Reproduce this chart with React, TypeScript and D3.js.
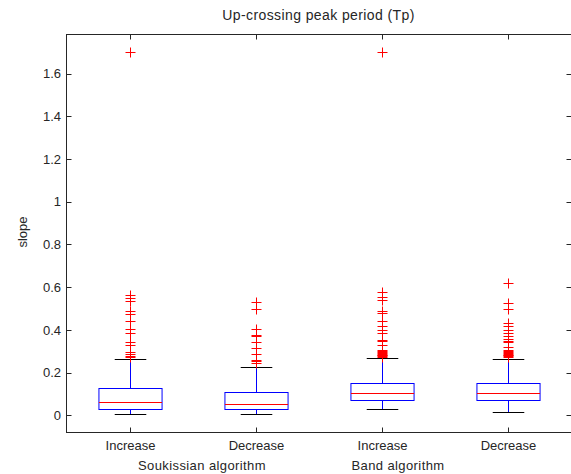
import * as d3 from "d3";

const categories = ["Increase", "Decrease", "Increase", "Decrease"];
const groups = ["Soukissian algorithm", "Band algorithm"];
const yTicks = [0, 0.2, 0.4, 0.6, 0.8, 1, 1.2, 1.4, 1.6];

// [lower whisker, q1, median, q3, upper whisker]
const boxStats: number[][] = [
  [0.005, 0.027, 0.06, 0.127, 0.262],
  [0.005, 0.027, 0.053, 0.108, 0.228],
  [0.027, 0.07, 0.103, 0.152, 0.267],
  [0.016, 0.07, 0.103, 0.152, 0.262],
];

const outliers: number[][] = [
  [1.701, 0.564, 0.548, 0.534, 0.489, 0.475, 0.442, 0.402, 0.386, 0.345, 0.33, 0.295, 0.288, 0.278, 0.272],
  [0.53, 0.498, 0.402, 0.378, 0.369, 0.341, 0.313, 0.286, 0.261, 0.253, 0.244],
  [1.701, 0.576, 0.556, 0.541, 0.486, 0.478, 0.441, 0.42, 0.4, 0.384, 0.353, 0.347, 0.327,
    0.305, 0.3, 0.296, 0.292, 0.288, 0.284, 0.28, 0.276, 0.273],
  [0.62, 0.527, 0.498, 0.433, 0.416, 0.4, 0.384, 0.369, 0.358, 0.35, 0.342, 0.319,
    0.305, 0.3, 0.296, 0.292, 0.288, 0.284, 0.28, 0.276, 0.273],
];

const W = 571;
const H = 474;
const left = 66.5;
const right = 571.5;
const top = 34.5;
const bottom = 432.5;

const App = () => {
  const x = d3.scaleLinear().domain([0.5, 4.5]).range([left, right]);
  const y = d3.scaleLinear().domain([-0.081, 1.784]).range([bottom, top]);
  const halfBox = x(0.25) - x(0);
  const halfCap = halfBox / 2;
  const font = "'Liberation Sans', Arial, sans-serif";
  const axisColor = "#262626";

  return (
    <svg
      width={W}
      height={H}
      style={{ position: "absolute", left: 0, top: 0, background: "#fff" }}
      fontFamily={font}
    >
      <rect x={0} y={0} width={W} height={H} fill="#fff" />
      {/* axes frame */}
      <rect x={left} y={top} width={right - left} height={bottom - top} fill="none" stroke={axisColor} />
      {yTicks.map((t) => (
        <g key={t}>
          <line x1={left} x2={left + 5} y1={Math.round(y(t)) + 0.5} y2={Math.round(y(t)) + 0.5} stroke={axisColor} />
          <line x1={right - 5} x2={right} y1={Math.round(y(t)) + 0.5} y2={Math.round(y(t)) + 0.5} stroke={axisColor} />
          <text x={61} y={y(t)} dy="0.36em" textAnchor="end" fontSize={13} fill="#262626">
            {t}
          </text>
        </g>
      ))}
      {categories.map((c, i) => {
        const cx = Math.round(x(i + 1)) + 0.5;
        return (
          <g key={i}>
            <line x1={cx} x2={cx} y1={bottom} y2={bottom - 5} stroke={axisColor} />
            <line x1={cx} x2={cx} y1={top} y2={top + 5} stroke={axisColor} />
            <text x={cx} y={450} textAnchor="middle" fontSize={13} fill="#262626">
              {c}
            </text>
          </g>
        );
      })}
      <text x={202} y={470} textAnchor="middle" fontSize={13} letterSpacing={0.4} fill="#262626">
        {groups[0]}
      </text>
      <text x={398} y={470} textAnchor="middle" fontSize={13} letterSpacing={0.4} fill="#262626">
        {groups[1]}
      </text>
      <text x={318.5} y={20} textAnchor="middle" fontSize={14} letterSpacing={0.4} fill="#262626">
        Up-crossing peak period (Tp)
      </text>
      <text
        transform={`translate(27,232) rotate(-90)`}
        textAnchor="middle"
        fontSize={13}
        fill="#262626"
      >
        slope
      </text>

      {boxStats.map((s, i) => {
        const cx = Math.round(x(i + 1)) + 0.5;
        const [lo, q1, med, q3, hi] = s.map((v) => Math.round(y(v)) + 0.5);
        return (
          <g key={i}>
            <line x1={cx} x2={cx} y1={hi} y2={q3} stroke="#0000ff" />
            <line x1={cx} x2={cx} y1={q1} y2={lo} stroke="#0000ff" />
            <line x1={cx - halfCap} x2={cx + halfCap} y1={hi} y2={hi} stroke="#000" />
            <line x1={cx - halfCap} x2={cx + halfCap} y1={lo} y2={lo} stroke="#000" />
            <rect x={cx - halfBox} y={q3} width={halfBox * 2} height={q1 - q3} fill="none" stroke="#0000ff" />
            <line x1={cx - halfBox} x2={cx + halfBox} y1={med} y2={med} stroke="#ff0000" />
            {outliers[i].map((v, j) => {
              const py = Math.round(y(v)) + 0.5;
              return (
                <g key={j} stroke="#ff0000">
                  <line x1={cx - 5} x2={cx + 5} y1={py} y2={py} />
                  <line x1={cx} x2={cx} y1={py - 5} y2={py + 5} />
                </g>
              );
            })}
          </g>
        );
      })}
    </svg>
  );
};

export default App;
